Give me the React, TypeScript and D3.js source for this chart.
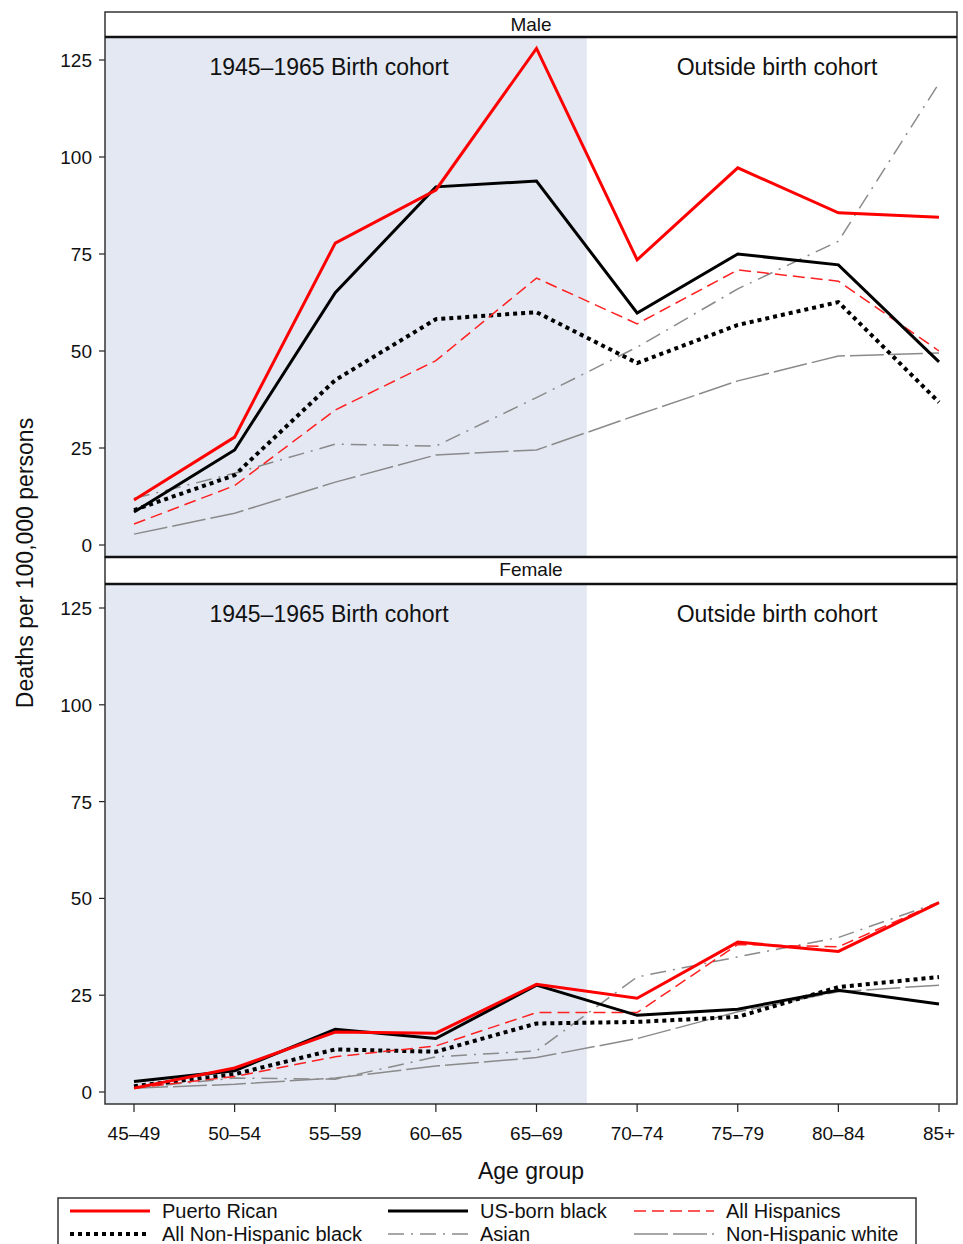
import * as d3 from 'd3'

const ageGroups = ['45–49', '50–54', '55–59', '60–65', '65–69', '70–74', '75–79', '80–84', '85+']
const yTicks = [0, 25, 50, 75, 100, 125]

// Male
const malePuertoRican = [11.6, 27.8, 77.8, 91.5, 128, 73.5, 97.2, 85.6, 84.5]
const maleUsBornBlack = [8.5, 24.5, 65, 92.3, 93.8, 59.8, 75, 72.2, 47.2]
const maleAllHispanics = [5.4, 15.3, 34.8, 47.5, 68.8, 57, 70.9, 68, 50]
const maleNonHispBlack = [9, 18, 42.5, 58.2, 60, 46.9, 56.7, 62.6, 36.8]
const maleAsian = [12, 18.5, 26, 25.5, 38, 51, 66, 78.3, 119]
const maleNonHispWhite = [2.8, 8.2, 16.2, 23.2, 24.5, 33.5, 42.3, 48.7, 49.5]

// Female
const femalePuertoRican = [1, 6.2, 15.5, 15.2, 27.8, 24.2, 38.7, 36.3, 48.9]
const femaleUsBornBlack = [2.7, 5.5, 16.2, 13.8, 27.6, 19.8, 21.4, 26.3, 22.7]
const femaleAllHispanics = [1, 4, 9.1, 11.9, 20.5, 20.5, 38.1, 37.5, 49]
const femaleNonHispBlack = [1.5, 4.6, 11, 10.4, 17.7, 18.1, 19.4, 27.1, 29.7]
const femaleAsian = [1, 3.6, 3.3, 9.1, 10.6, 29.7, 34.9, 39.9, 49]
const femaleNonHispWhite = [1, 2, 3.6, 6.7, 8.9, 13.8, 20.7, 25.9, 27.6]

const seriesNames = ['Puerto Rican', 'US-born black', 'All Hispanics', 'All Non-Hispanic black', 'Asian', 'Non-Hispanic white']

const styles = [
  { color: '#ff0000', width: 3, dash: null },
  { color: '#000000', width: 3, dash: null },
  { color: '#ff2020', width: 1.5, dash: '12,6' },
  { color: '#000000', width: 4, dash: '4,4' },
  { color: '#8a8a8a', width: 1.5, dash: '16,7,2,7' },
  { color: '#8a8a8a', width: 1.5, dash: '34,5' },
]

const panels = [
  { label: 'Male', stripTop: 12, top: 37, bottom: 557, y0: 545, y125: 60,
    data: [malePuertoRican, maleUsBornBlack, maleAllHispanics, maleNonHispBlack, maleAsian, maleNonHispWhite] },
  { label: 'Female', stripTop: 557, top: 584, bottom: 1104, y0: 1092, y125: 608,
    data: [femalePuertoRican, femaleUsBornBlack, femaleAllHispanics, femaleNonHispBlack, femaleAsian, femaleNonHispWhite] },
]

const FONT = 'Liberation Sans, Arial, sans-serif'

export default function App() {
  const left = 105
  const right = 957
  const x = d3.scalePoint<string>().domain(ageGroups).range([134, 939])
  const shadeEnd = ((x('65–69') as number) + (x('70–74') as number)) / 2

  const legendCols = [70, 388, 634]
  const legendRows = [1211, 1234]

  return (
    <svg width={963} height={1244} style={{ position: 'absolute', left: 0, top: 0, background: '#fff' }} fontFamily={FONT}>
      {panels.map((p) => {
        const y = d3.scaleLinear().domain([0, 125]).range([p.y0, p.y125])
        const line = d3.line<number>().x((_, i) => x(ageGroups[i]) as number).y((d) => y(d))
        return (
          <g key={p.label}>
            <rect x={left} y={p.stripTop} width={right - left} height={p.top - p.stripTop} fill="#fff" />
            <text x={(left + right) / 2} y={p.stripTop + 19} textAnchor="middle" fontSize={19} fill="#111">{p.label}</text>
            <rect x={left} y={p.top} width={right - left} height={p.bottom - p.top} fill="#fff" />
            <rect x={left} y={p.top} width={shadeEnd - left} height={p.bottom - p.top} fill="#e3e8f3" />
            <text x={329} y={p.top + 38} textAnchor="middle" fontSize={23} fill="#111">1945–1965 Birth cohort</text>
            <text x={777} y={p.top + 38} textAnchor="middle" fontSize={23} fill="#111">Outside birth cohort</text>
            {yTicks.map((t) => (
              <g key={t}>
                <line x1={left - 6} x2={left} y1={y(t)} y2={y(t)} stroke="#222" strokeWidth={1.2} />
                <text x={left - 13} y={y(t) + 7} textAnchor="end" fontSize={19} fill="#111">{t}</text>
              </g>
            ))}
            {p.data.map((vals, i) => (
              <path key={i} d={line(vals) || ''} fill="none" stroke={styles[i].color} strokeWidth={styles[i].width}
                strokeDasharray={styles[i].dash || undefined} strokeLinejoin="miter" />
            )).reverse()}
            <rect x={left} y={p.stripTop} width={right - left} height={p.bottom - p.stripTop} fill="none" stroke="#333" strokeWidth={1.5} />
            <line x1={left} x2={right} y1={p.top} y2={p.top} stroke="#111" strokeWidth={2.5} />
          </g>
        )
      })}
      <line x1={left} x2={right} y1={557} y2={557} stroke="#111" strokeWidth={2.5} />
      {ageGroups.map((g) => (
        <g key={g}>
          <line x1={x(g)} x2={x(g)} y1={1104} y2={1112} stroke="#222" strokeWidth={1.2} />
          <text x={x(g)} y={1140} textAnchor="middle" fontSize={19} fill="#111">{g}</text>
        </g>
      ))}
      <text x={531} y={1179} textAnchor="middle" fontSize={23} fill="#111">Age group</text>
      <text transform="translate(33,563) rotate(-90)" textAnchor="middle" fontSize={23} fill="#111">Deaths per 100,000 persons</text>
      <rect x={58} y={1198} width={858} height={60} fill="#fff" stroke="#333" strokeWidth={1.5} />
      {seriesNames.map((name, i) => {
        const cx = legendCols[i % 3]
        const cy = legendRows[Math.floor(i / 3)]
        return (
          <g key={name}>
            <line x1={cx} x2={cx + 80} y1={cy} y2={cy} stroke={styles[i].color} strokeWidth={styles[i].width}
              strokeDasharray={styles[i].dash || undefined} />
            <text x={cx + 92} y={cy + 7} fontSize={20} fill="#111">{name}</text>
          </g>
        )
      })}
    </svg>
  )
}
